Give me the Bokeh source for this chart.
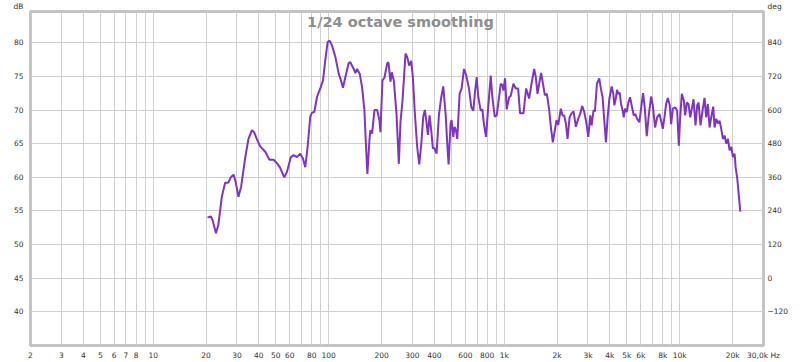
from bokeh.plotting import figure
from bokeh.models import Range1d, LinearAxis, FixedTicker, Label
from bokeh.embed import file_html
from bokeh.resources import INLINE

# ---- data (frequency in Hz, level in dB) ----
freq_hz = [
    20.4, 21.3, 21.8, 22.8, 23.5, 24.6, 25.7, 26.8, 27.7, 28.7,
    29.5, 30.6, 31.7, 33.4, 34.9, 36.5, 37.6, 38.9, 40.7, 43.5,
    46.0, 48.5, 51.1, 52.9, 55.8, 57.8, 60.9, 63.1, 65.9, 68.8,
    71.3, 73.5, 75.8, 78.5, 80.3, 82.8, 85.7, 89.5, 92.8, 95.6,
    98.6, 101.2, 104.4, 109.1, 114.0, 116.5, 120.6, 124.4, 130.0, 132.8,
    138.8, 141.9, 145.0, 150.2, 154.9, 159.7, 162.5, 166.1, 170.6, 172.8,
    176.7, 182.2, 188.7, 194.5, 197.1, 202.4, 207.8, 215.2, 219.0, 224.8,
    228.8, 234.9, 243.3, 250.9, 256.4, 263.3, 273.9, 279.9, 287.4, 294.9,
    301.6, 309.6, 319.3, 327.8, 336.5, 345.5, 353.2, 359.4, 367.3, 375.4,
    383.7, 392.2, 400.9, 411.6, 424.4, 437.7, 449.4, 463.4, 473.6, 481.9,
    494.8, 501.3, 512.4, 521.5, 530.7, 540.1, 556.9, 571.9, 589.7, 608.1,
    629.8, 649.5, 666.8, 681.5, 696.6, 712.1, 734.3, 750.6, 767.2, 787.6,
    808.7, 837.5, 856.0, 882.7, 906.3, 934.5, 955.2, 976.1, 989.0, 1011,
    1033, 1066, 1089, 1128, 1164, 1200, 1231, 1287, 1333, 1386,
    1430, 1481, 1513, 1547, 1588, 1623, 1667, 1703, 1749, 1803,
    1843, 1892, 1943, 1986, 2030, 2102, 2149, 2196, 2245, 2295,
    2356, 2418, 2483, 2560, 2640, 2711, 2783, 2857, 2933, 3011,
    3091, 3146, 3229, 3286, 3374, 3479, 3556, 3635, 3716, 3799,
    3883, 3969, 4094, 4184, 4240, 4334, 4391, 4469, 4548, 4628,
    4731, 4794, 4879, 4987, 5097, 5210, 5349, 5467, 5588, 5712,
    5888, 6019, 6180, 6317, 6485, 6659, 6866, 7018, 7237, 7429,
    7660, 7831, 8004, 8182, 8363, 8549, 8777, 8932, 9130, 9414,
    9665, 9880, 10053, 10276, 10550, 10737, 10975, 11218, 11466, 11720,
    11979, 12298, 12571, 12793, 13134, 13484, 13844, 14150, 14463, 14784,
    15111, 15513, 15787, 16136, 16493, 16858, 17231, 17615, 18005, 18404,
    18811, 19227, 19653, 20092, 20537, 20808, 21269, 21645, 22124,
]
level_db = [
    54.0, 54.2, 53.6, 51.7, 52.9, 57.1, 59.2, 59.2, 60.0, 60.4,
    59.3, 57.1, 58.6, 62.8, 65.7, 67.0, 66.7, 65.7, 64.6, 63.8,
    62.6, 62.6, 62.0, 61.4, 60.0, 60.8, 63.0, 63.3, 63.0, 63.5,
    62.8, 61.5, 64.5, 69.0, 69.6, 69.7, 71.9, 73.2, 74.4, 77.4,
    80.1, 80.3, 79.6, 77.9, 75.4, 74.7, 73.3, 74.9, 77.0, 77.1,
    76.1, 75.5, 76.1, 75.4, 73.4, 70.0, 65.5, 60.5, 65.5, 67.0,
    66.5, 70.0, 70.0, 68.5, 66.7, 74.4, 74.8, 76.9, 77.1, 74.2,
    75.6, 74.4, 69.5, 62.0, 68.2, 71.4, 78.4, 77.9, 76.6, 77.3,
    74.9, 69.5, 64.5, 61.9, 64.8, 69.0, 70.0, 68.5, 66.3, 69.2,
    67.0, 64.3, 64.3, 63.5, 69.2, 71.9, 73.5, 69.5, 65.0, 61.9,
    68.0, 68.5, 66.0, 67.5, 67.0, 65.7, 72.4, 73.2, 76.1, 75.1,
    73.2, 70.4, 69.9, 72.7, 74.9, 71.9, 69.9, 70.1, 67.8, 66.0,
    70.1, 75.1, 71.9, 69.0, 69.2, 71.9, 73.9, 73.7, 72.9, 74.7,
    70.1, 71.9, 72.1, 73.9, 73.2, 73.2, 69.5, 69.5, 73.2, 71.7,
    73.9, 76.1, 74.9, 72.4, 74.2, 75.5, 73.7, 72.2, 72.4, 70.1,
    67.5, 65.2, 67.0, 68.5, 67.8, 70.2, 69.2, 69.2, 68.0, 65.7,
    68.9, 69.5, 69.8, 67.5, 68.7, 69.5, 70.6, 69.7, 68.2, 66.0,
    69.2, 67.7, 70.0, 69.8, 73.9, 74.7, 73.1, 71.9, 68.4, 65.2,
    68.9, 71.6, 73.5, 72.4, 70.7, 71.9, 73.0, 72.4, 72.6, 70.9,
    69.9, 68.9, 70.2, 69.7, 71.1, 71.9, 70.4, 69.2, 69.4, 68.7,
    68.2, 70.2, 72.5, 70.4, 66.1, 69.2, 72.0, 70.7, 67.4, 68.9,
    69.4, 68.4, 67.2, 68.9, 70.9, 71.8, 70.7, 67.9, 70.2, 70.4,
    69.9, 64.7, 68.9, 72.4, 71.4, 69.2, 71.1, 70.9, 68.9, 70.2,
    71.6, 67.7, 70.7, 71.1, 67.7, 69.9, 71.8, 68.9, 70.9, 67.4,
    68.9, 70.5, 67.4, 68.7, 68.0, 68.4, 67.2, 65.7, 66.2, 65.0,
    65.7, 64.0, 64.5, 63.0, 63.5, 61.5, 59.8, 57.6, 54.9,
]

db_ticks = [40, 45, 50, 55, 60, 65, 70, 75, 80]
deg_ticks = [-120, 0, 120, 240, 360, 480, 600, 720, 840]
freq_ticks = [2, 3, 4, 5, 6, 7, 8, 9,
              10, 20, 30, 40, 50, 60, 70, 80, 90,
              100, 200, 300, 400, 500, 600, 700, 800, 900,
              1000, 2000, 3000, 4000, 5000, 6000, 7000, 8000, 9000,
              10000, 20000, 30000]
freq_labels = {
    2: "2", 3: "3", 4: "4", 5: "5", 6: "6", 7: "7", 8: "8", 9: "",
    10: "10", 20: "20", 30: "30", 40: "40", 50: "50", 60: "60", 70: "", 80: "80", 90: "",
    100: "100", 200: "200", 300: "300", 400: "400", 500: "", 600: "600", 700: "", 800: "800", 900: "",
    1000: "1k", 2000: "2k", 3000: "3k", 4000: "4k", 5000: "5k", 6000: "6k", 7000: "", 8000: "8k", 9000: "",
    10000: "10k", 20000: "20k", 30000: "30,0k Hz",
}
db_range = (35.0, 84.64)
x_range = (2, 30000)

title_text = "1/24 octave smoothing"
left_unit = "dB"
right_unit = "deg"

def to_deg(v):
    # phase axis maps linearly: 0 deg at 45 dB, 120 deg per 5 dB
    return (v - 45) * 24

# unit captions sit as extra tick labels at the top edge of each axis
unit_tick_db = db_range[1] - 0.001
unit_tick_deg = to_deg(unit_tick_db)

# ---- figure ----
p = figure(width=800, height=362, x_axis_type="log",
           x_range=Range1d(*x_range), y_range=Range1d(*db_range),
           output_backend="svg", toolbar_location=None,
           min_border_left=30, min_border_right=37,
           min_border_top=11, min_border_bottom=16)
p.background_fill_color = "white"
p.border_fill_color = "white"
p.outline_line_color = "#c4c4c4"
p.outline_line_width = 3

p.extra_y_ranges = {"deg": Range1d(to_deg(db_range[0]), to_deg(db_range[1]))}
rax = LinearAxis(y_range_name="deg")
p.add_layout(rax, "right")

p.xaxis.ticker = FixedTicker(ticks=freq_ticks)
p.xaxis.major_label_overrides = freq_labels
p.yaxis.ticker = FixedTicker(ticks=db_ticks + [unit_tick_db])
p.yaxis.major_label_overrides = {unit_tick_db: left_unit + "\n "}
rax.ticker = FixedTicker(ticks=deg_ticks + [unit_tick_deg])
rax.major_label_overrides = {unit_tick_deg: right_unit + "\n "}

for ax in [p.xaxis[0], p.yaxis[0], rax]:
    ax.axis_line_color = None
    ax.major_tick_line_color = None
    ax.minor_tick_line_color = None
    ax.major_tick_in = 0
    ax.major_tick_out = 0
    ax.minor_tick_in = 0
    ax.minor_tick_out = 0
    ax.major_label_text_font = "DejaVu Sans"
    ax.major_label_text_font_size = "7.5px"
    ax.major_label_text_color = "#333333"
p.yaxis.major_label_standoff = 7
rax.major_label_standoff = 4
p.xaxis.major_label_standoff = 5

p.xgrid.grid_line_color = "#cfcfcf"
p.ygrid.grid_line_color = "#cfcfcf"
p.ygrid.ticker = FixedTicker(ticks=db_ticks)
p.xgrid.ticker = FixedTicker(ticks=freq_ticks)

p.line(freq_hz, level_db, line_color="#7f35c2", line_width=2)

p.add_layout(Label(x=370, y=324, x_units="screen", y_units="screen",
                   text=title_text, text_align="center", text_baseline="middle",
                   text_font="DejaVu Sans", text_font_style="bold",
                   text_font_size="14.5px", text_color="#8e8e8e"))

open("out.html", "w").write(file_html(p, INLINE))
